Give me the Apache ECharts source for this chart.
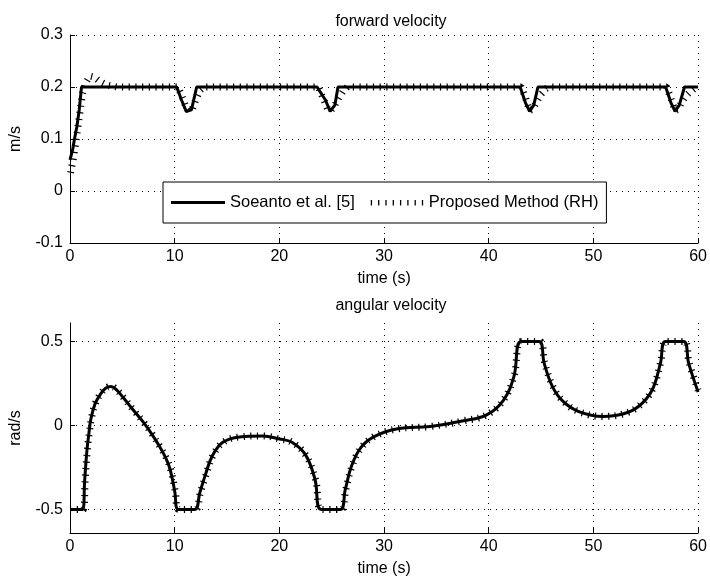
<!DOCTYPE html>
<html><head><meta charset="utf-8">
<script src="https://cdn.jsdelivr.net/npm/echarts@6/dist/echarts.min.js"></script>
<style>html,body{margin:0;padding:0;background:#fff}#c{width:710px;height:581px}</style>
</head><body><div id="c"></div>
<script>
const seriesNames = ['Soeanto et al. [5]', 'Proposed Method (RH)'];
const titles = ['forward velocity', 'angular velocity'];
const yNames = ['m/s', 'rad/s'];
const xName = 'time (s)';
const angTicks = [-0.5, 0, 0.5];

// forward velocity [t, v]
const fwdSoeanto = [[0,0.06],[0.25,0.079],[0.41,0.098],[0.66,0.124],[0.88,0.156],[1.1,0.2],
  [10.2,0.2],[10.65,0.175],[11.1,0.153],[11.6,0.156],[12.1,0.2],
  [23.6,0.2],[24.4,0.175],[24.85,0.153],[25.3,0.165],[25.6,0.2],
  [43.0,0.2],[43.5,0.17],[43.9,0.153],[44.3,0.165],[44.7,0.2],
  [56.9,0.2],[57.4,0.17],[57.8,0.153],[58.2,0.165],[58.7,0.2],[60,0.2]];
const fwdProposed = [[0.05,0.035],[0.3,0.06],[0.6,0.1],[0.9,0.145],[1.2,0.188],[1.5,0.208],[1.9,0.221],[2.3,0.219],[2.8,0.211],[3.5,0.204],[4.5,0.2],
  [10.3,0.2],[10.7,0.182],[11.1,0.16],[11.4,0.154],[11.7,0.158],[12.0,0.175],[12.4,0.193],[12.8,0.2],
  [23.7,0.2],[24.2,0.178],[24.6,0.158],[24.9,0.154],[25.3,0.165],[25.7,0.18],[26.1,0.192],[26.5,0.2],
  [43.1,0.2],[43.5,0.18],[43.9,0.155],[44.2,0.157],[44.6,0.172],[45.0,0.186],[45.5,0.197],[45.9,0.2],
  [57.0,0.2],[57.4,0.178],[57.8,0.155],[58.1,0.157],[58.4,0.17],[58.8,0.182],[59.2,0.19],[59.7,0.198],[60,0.2]];

// angular velocity [t, w]
const angSoeanto = [[0,-0.5],[1.2,-0.5],[1.4,-0.33],[1.6,-0.16],[1.8,-0.05],[2.0,0.04],[2.4,0.13],[2.9,0.185],[3.4,0.222],[3.9,0.232],[4.4,0.215],[5.1,0.165],[6.0,0.095],[7.0,0.02],[7.8,-0.05],[8.6,-0.13],[9.2,-0.2],[9.6,-0.27],[10.0,-0.39],[10.35,-0.5],
  [11.9,-0.5],[12.4,-0.4],[12.9,-0.3],[13.6,-0.18],[14.6,-0.1],[16.2,-0.068],[18.4,-0.062],[20,-0.08],[21.2,-0.1],[22.5,-0.175],[23.4,-0.32],[24.0,-0.5],
  [25.8,-0.5],[26.3,-0.38],[26.9,-0.24],[27.8,-0.13],[29.1,-0.065],[31.3,-0.02],[34.4,-0.006],[37.6,0.028],[39.8,0.063],[41.4,0.15],[42.4,0.29],[43.1,0.5],
  [44.8,0.5],[45.3,0.37],[46.1,0.23],[47.1,0.143],[48.6,0.083],[50.9,0.054],[52.8,0.068],[54.3,0.113],[55.6,0.21],[56.4,0.37],[56.9,0.5],
  [58.6,0.5],[59.1,0.37],[60,0.2]];
const angProposed = [[0,-0.5],[1.25,-0.5],[1.45,-0.32],[1.65,-0.15],[1.85,-0.04],[2.05,0.045],[2.45,0.135],[2.95,0.19],[3.45,0.224],[3.95,0.232],[4.45,0.213],[5.15,0.163],[6.05,0.093],[7.05,0.018],[7.85,-0.052],[8.65,-0.132],[9.25,-0.2],[9.65,-0.27],[10.05,-0.39],[10.4,-0.5],
  [11.95,-0.5],[12.45,-0.4],[12.95,-0.3],[13.65,-0.18],[14.65,-0.1],[16.2,-0.068],[18.4,-0.062],[20,-0.08],[21.2,-0.1],[22.5,-0.175],[23.45,-0.32],[24.05,-0.5],
  [25.85,-0.5],[26.35,-0.38],[26.95,-0.24],[27.85,-0.13],[29.1,-0.065],[31.3,-0.02],[34.4,-0.006],[37.6,0.028],[39.8,0.063],[41.4,0.15],[42.4,0.29],[43.15,0.5],
  [44.85,0.5],[45.35,0.37],[46.15,0.23],[47.15,0.143],[48.6,0.083],[50.9,0.054],[52.8,0.068],[54.3,0.113],[55.6,0.21],[56.4,0.37],[56.95,0.5],
  [58.65,0.5],[59.15,0.37],[60,0.21]];

const FONT = 'Liberation Sans, Arial, Helvetica, sans-serif';
const txt = {color:'#000', fontFamily: FONT, fontSize: 16};
const legTxt = {color:'#000', fontFamily: FONT, fontSize: 16.5};
const dotted = {show:true, lineStyle:{color:'#000', width:1, type:[1,5]}};
const solidStyle = {color:'#000', width:3};
const tickStyle = {color:'#000', width:7, type:[1.2,5.5], cap:'butt'};

// legend icons (box 0..W x 0..H kept by tiny corner marks)
const IW = 54, IH = 14;
const corner = 'M0,0L0.01,0L0.01,0.01Z M' + IW + ',' + IH + 'L' + (IW-0.01) + ',' + IH + 'L' + IW + ',' + (IH-0.01) + 'Z ';
const iconSolid = 'path://' + corner + 'M0,5.6L' + IW + ',5.6L' + IW + ',8.4L0,8.4Z';
let tp = '';
for (let i = 0; i < 8; i++) { const x = 1 + i * 7.3; tp += 'M' + x + ',4.5L' + (x+1.3) + ',4.5L' + (x+1.3) + ',10L' + x + ',10Z '; }
const iconTicks = 'path://' + corner + tp;

function xAx(gi){
  return {type:'value', gridIndex:gi, min:0, max:60, interval:10,
    name:xName, nameLocation:'middle', nameGap:28, nameTextStyle:txt,
    axisLine:{show:true, onZero:false, lineStyle:{color:'#000', width:1}},
    axisTick:{show:true, inside:true, length:5, lineStyle:{color:'#000'}},
    axisLabel:Object.assign({margin:6}, txt),
    splitLine:dotted};
}

const chart = echarts.init(document.getElementById('c'), null, {renderer:'canvas'});
chart.setOption({
  animation:false,
  backgroundColor:'#fff',
  title:[
    {text:titles[0], left:386, top:9, textAlign:'center', textStyle:Object.assign({fontWeight:'normal'}, txt)},
    {text:titles[1], left:386, top:293, textAlign:'center', textStyle:Object.assign({fontWeight:'normal'}, txt)}
  ],
  grid:[
    {left:69, right:7, top:35, height:208},
    {left:69, right:7, top:323, height:210}
  ],
  legend:{
    left:163, top:182, orient:'horizontal',
    padding:[12,8,12,8], itemWidth:IW, itemHeight:IH, itemGap:15,
    borderColor:'#000', borderWidth:1, backgroundColor:'#fff',
    textStyle:legTxt, z:10,
    data:[{name:seriesNames[0], icon:iconSolid}, {name:seriesNames[1], icon:iconTicks}]
  },
  xAxis:[xAx(0), xAx(1)],
  yAxis:[
    {type:'value', gridIndex:0, min:-0.1, max:0.3, interval:0.1,
      name:yNames[0], nameLocation:'middle', nameGap:46, nameTextStyle:txt,
      axisLine:{show:true, lineStyle:{color:'#000', width:1}},
      axisTick:{show:true, inside:true, length:5, lineStyle:{color:'#000'}},
      axisLabel:Object.assign({margin:7}, txt),
      splitLine:dotted},
    {type:'value', gridIndex:1, min:-0.64, max:0.61,
      name:yNames[1], nameLocation:'middle', nameGap:46, nameTextStyle:txt,
      axisLine:{show:true, lineStyle:{color:'#000', width:1}},
      axisTick:{show:true, inside:true, length:5, lineStyle:{color:'#000'}, customValues:angTicks},
      axisLabel:Object.assign({margin:7, customValues:angTicks}, txt),
      splitLine:dotted}
  ],
  series:[
    {name:seriesNames[1], type:'line', xAxisIndex:0, yAxisIndex:0, data:fwdProposed, symbol:'none', lineStyle:tickStyle, itemStyle:{color:'#000'}, z:2},
    {name:seriesNames[0], type:'line', xAxisIndex:0, yAxisIndex:0, data:fwdSoeanto, symbol:'none', lineStyle:solidStyle, itemStyle:{color:'#000'}, z:3},
    {name:seriesNames[1], type:'line', xAxisIndex:1, yAxisIndex:1, data:angProposed, symbol:'none', smooth:0.4, lineStyle:tickStyle, itemStyle:{color:'#000'}, z:2},
    {name:seriesNames[0], type:'line', xAxisIndex:1, yAxisIndex:1, data:angSoeanto, symbol:'none', smooth:0.4, lineStyle:solidStyle, itemStyle:{color:'#000'}, z:3}
  ]
});
</script></body></html>
